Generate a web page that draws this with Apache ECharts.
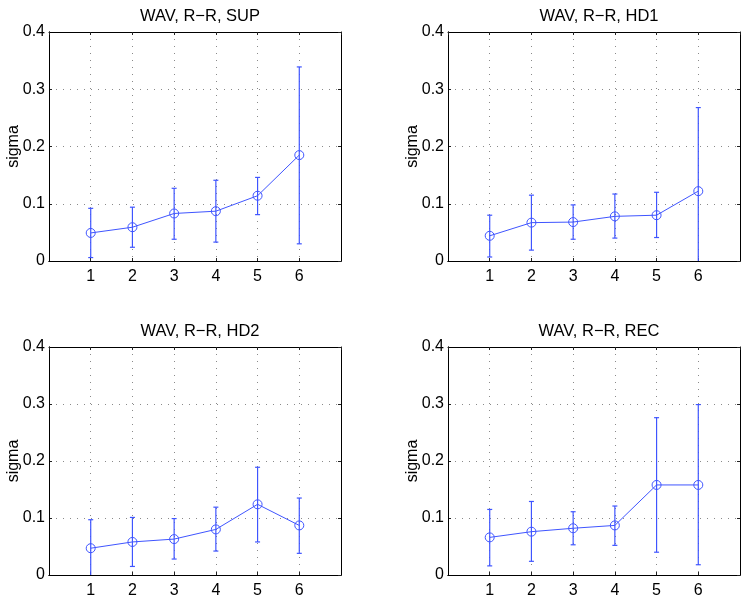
<!DOCTYPE html>
<html>
<head>
<meta charset="utf-8">
<script src="https://cdn.jsdelivr.net/npm/echarts@6/dist/echarts.min.js"></script>
<style>
html,body{margin:0;padding:0;background:#fff;}
#chart{width:747px;height:599px;}
</style>
</head>
<body>
<div id="chart"></div>
<script>
// ---- data ----
const xValues = [1, 2, 3, 4, 5, 6];
const titles = ['WAV, R\u2212R, SUP', 'WAV, R\u2212R, HD1', 'WAV, R\u2212R, HD2', 'WAV, R\u2212R, REC'];
const yTickLabels = ['0', '0.1', '0.2', '0.3', '0.4'];

const supMean = [0.049, 0.059, 0.083, 0.087, 0.114, 0.185];
const supLow  = [0.006, 0.024, 0.038, 0.033, 0.081, 0.030];
const supHigh = [0.092, 0.094, 0.127, 0.141, 0.146, 0.339];

const hd1Mean = [0.044, 0.067, 0.068, 0.078, 0.080, 0.122];
const hd1Low  = [0.007, 0.019, 0.038, 0.040, 0.041, -0.024];
const hd1High = [0.080, 0.115, 0.098, 0.117, 0.120, 0.268];

const hd2Mean = [0.047, 0.058, 0.063, 0.080, 0.124, 0.087];
const hd2Low  = [-0.002, 0.015, 0.028, 0.042, 0.058, 0.038];
const hd2High = [0.097, 0.101, 0.099, 0.119, 0.189, 0.135];

const recMean = [0.066, 0.076, 0.082, 0.087, 0.158, 0.158];
const recLow  = [0.016, 0.024, 0.053, 0.052, 0.040, 0.018];
const recHigh = [0.115, 0.129, 0.111, 0.121, 0.276, 0.299];

const panels = [
  {mean: supMean, low: supLow, high: supHigh},
  {mean: hd1Mean, low: hd1Low, high: hd1High},
  {mean: hd2Mean, low: hd2Low, high: hd2High},
  {mean: recMean, low: recLow, high: recHigh}
];

// ---- layout / style ----
const FONT = 'Liberation Sans, Arial, Helvetica, sans-serif';
const BLUE = '#3f55ff';
const layout = [
  {left: 49, top: 32},
  {left: 448, top: 32},
  {left: 49, top: 347},
  {left: 448, top: 347}
];
const W = 292, H = 229;

const grids = [], xAxes = [], yAxes = [], series = [], title = [];

layout.forEach((p, i) => {
  grids.push({left: p.left, top: p.top, width: W, height: H, containLabel: false});
  title.push({
    text: titles[i], left: p.left + W / 2, top: p.top - 29, textAlign: 'center',
    textStyle: {fontFamily: FONT, fontSize: 16.5, fontWeight: 'normal', color: '#000'}
  });
  xAxes.push({
    type: 'value', gridIndex: i, min: 0, max: 7, interval: 1, position: 'bottom',
    axisLine: {show: true, onZero: false, lineStyle: {color: '#000', width: 1}},
    axisTick: {show: true, inside: true, length: 3, lineStyle: {color: '#222'}},
    axisLabel: {
      show: true, margin: 8, color: '#000', fontFamily: FONT, fontSize: 16,
      formatter: v => (xValues.indexOf(v) >= 0 ? String(v) : '')
    },
    splitLine: {show: true, lineStyle: {color: '#8a8a8a', width: 1, type: [1, 6]}}
  });
  yAxes.push({
    type: 'value', gridIndex: i, min: 0, max: 0.4, interval: 0.1, position: 'left',
    name: 'sigma', nameLocation: 'middle', nameGap: 27, nameMoveOverlap: false,
    nameTextStyle: {fontFamily: FONT, fontSize: 16, color: '#000'},
    axisLine: {show: true, onZero: false, lineStyle: {color: '#000', width: 1}},
    axisTick: {show: true, inside: true, length: 3, lineStyle: {color: '#222'}},
    axisLabel: {
      show: true, margin: 4, color: '#000', fontFamily: FONT, fontSize: 16,
      formatter: (v) => yTickLabels[Math.round(v * 10)]
    },
    splitLine: {show: true, lineStyle: {color: '#8a8a8a', width: 1, type: [1, 6]}}
  });
});
layout.forEach((p, i) => {
  xAxes.push({
    type: 'value', gridIndex: i, min: 0, max: 7, interval: 1, position: 'top', z: 5,
    axisLine: {show: true, onZero: false, lineStyle: {color: '#000', width: 1}},
    axisTick: {show: true, inside: true, length: 3, lineStyle: {color: '#222'}},
    axisLabel: {show: false}, splitLine: {show: false}
  });
  yAxes.push({
    type: 'value', gridIndex: i, min: 0, max: 0.4, interval: 0.1, position: 'right', z: 5,
    axisLine: {show: true, onZero: false, lineStyle: {color: '#000', width: 1}},
    axisTick: {show: true, inside: true, length: 3, lineStyle: {color: '#222'}},
    axisLabel: {show: false}, splitLine: {show: false}
  });
});
layout.forEach((p, i) => {
  xAxes.push({
    type: 'value', gridIndex: i, min: 0, max: 7, interval: 1, position: 'bottom', z: 5,
    axisLine: {show: true, onZero: false, lineStyle: {color: '#000', width: 1}},
    axisTick: {show: false}, axisLabel: {show: false}, splitLine: {show: false}
  });
  yAxes.push({
    type: 'value', gridIndex: i, min: 0, max: 0.4, interval: 0.1, position: 'left', z: 5,
    axisLine: {show: true, onZero: false, lineStyle: {color: '#000', width: 1}},
    axisTick: {show: false}, axisLabel: {show: false}, splitLine: {show: false}
  });
});

panels.forEach((d, i) => {
  const errData = xValues.map((x, k) => [x, d.low[k], d.high[k]]);
  series.push({
    type: 'custom', xAxisIndex: i, yAxisIndex: i, clip: true, z: 3,
    data: errData,
    renderItem: function (params, api) {
      const x = api.value(0);
      const lo = api.coord([x, api.value(1)]);
      const hi = api.coord([x, api.value(2)]);
      const cap = 2.5;
      const st = {stroke: BLUE, lineWidth: 1.2, fill: null};
      return {
        type: 'group',
        children: [
          {type: 'line', shape: {x1: lo[0], y1: lo[1], x2: hi[0], y2: hi[1]}, style: st},
          {type: 'line', shape: {x1: hi[0] - cap, y1: hi[1], x2: hi[0] + cap, y2: hi[1]}, style: st},
          {type: 'line', shape: {x1: lo[0] - cap, y1: lo[1], x2: lo[0] + cap, y2: lo[1]}, style: st}
        ]
      };
    }
  });
  series.push({
    type: 'line', xAxisIndex: i, yAxisIndex: i, z: 4,
    data: xValues.map((x, k) => [x, d.mean[k]]),
    symbol: 'circle', symbolSize: 9, showSymbol: true,
    lineStyle: {color: BLUE, width: 1},
    itemStyle: {color: 'rgba(0,0,0,0)', borderColor: BLUE, borderWidth: 1},
    animation: false
  });
});

const chart = echarts.init(document.getElementById('chart'), null, {renderer: 'canvas'});
chart.setOption({
  animation: false,
  backgroundColor: '#fff',
  title: title,
  grid: grids,
  xAxis: xAxes,
  yAxis: yAxes,
  series: series
});
</script>
</body>
</html>
